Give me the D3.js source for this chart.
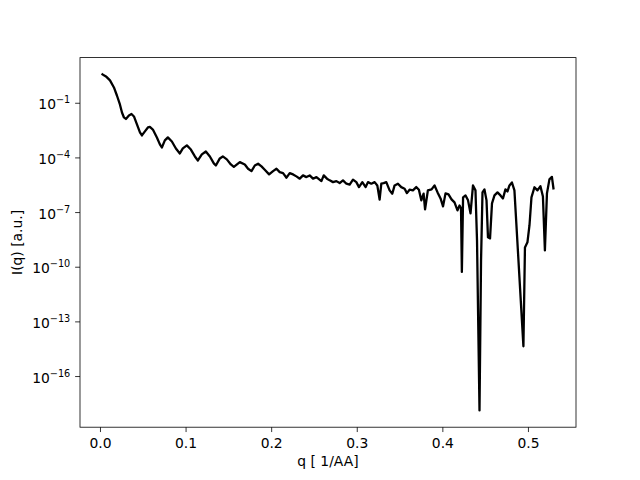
<!DOCTYPE html>
<html>
<head>
<meta charset="utf-8">
<script src="https://cdn.jsdelivr.net/npm/d3@7"></script>
<style>
  body { margin: 0; background: #fff; }
  svg { display: block; font-family: "DejaVu Sans", sans-serif; }
</style>
</head>
<body>
<svg id="chart" width="640" height="480"></svg>
<script>
// scattering curve, q in 1/AA, intensity in arbitrary units
var qValues = [
  0.003, 0.007, 0.0117, 0.0163, 0.0198, 0.0233, 0.0257, 0.028, 0.0303, 0.0338,
  0.0368, 0.0397, 0.0432, 0.0467, 0.049, 0.0525, 0.056, 0.0583, 0.0618, 0.0665,
  0.070, 0.0723, 0.0758, 0.0793, 0.084, 0.0887, 0.0933, 0.0968, 0.1015, 0.1062,
  0.1109, 0.1144, 0.119, 0.1237, 0.1284, 0.133, 0.1354, 0.140, 0.1435, 0.1482,
  0.1529, 0.1564,
  0.1634, 0.1692, 0.1730, 0.1770, 0.1809, 0.1847, 0.1887, 0.1925,
  0.1976, 0.2022, 0.2062, 0.2100, 0.2139, 0.2179, 0.2217, 0.2256, 0.2295, 0.2334,
  0.2372, 0.2412, 0.245, 0.2489, 0.2529, 0.2587, 0.2614, 0.2652, 0.2684, 0.2722,
  0.2762, 0.2800, 0.2839, 0.2879, 0.2917, 0.2956, 0.2995, 0.3026, 0.3065, 0.3104,
  0.3131, 0.3170, 0.3209, 0.3240, 0.3267, 0.3287, 0.3314, 0.3345, 0.3384, 0.3415,
  0.3442, 0.3481, 0.3520, 0.3559, 0.3586, 0.3617, 0.3656, 0.3695, 0.3726, 0.3754,
  0.3781, 0.3798, 0.3831,
  0.3874, 0.3909, 0.3944, 0.3979, 0.4008, 0.4037, 0.4072, 0.4107, 0.4142,
  0.4177, 0.4201, 0.4218, 0.4228, 0.4242, 0.4271, 0.430, 0.4329, 0.4358, 0.4387,
  0.4405, 0.4434, 0.4452, 0.4469, 0.4492, 0.4516, 0.4533, 0.4557, 0.458, 0.4609,
  0.4644, 0.4679, 0.4708, 0.4737, 0.4761, 0.4784, 0.4813, 0.4842, 0.4947, 0.4965,
  0.4994, 0.5018, 0.5041, 0.5076, 0.5111, 0.5146, 0.5175, 0.5198, 0.5222, 0.5251,
  0.528, 0.5298
];
var intensityValues = [
  3.6e0, 2.8e0, 1.7e0, 6.9e-1, 2.5e-1, 8.1e-2, 2.9e-2, 1.56e-2, 1.29e-2, 2.0e-2,
  2.4e-2, 1.77e-2, 6.5e-3, 2.35e-3, 1.61e-3, 2.7e-3, 4.4e-3, 4.7e-3, 3.4e-3, 1.25e-3,
  5.2e-4, 3.5e-4, 8.6e-4, 1.25e-3, 7.5e-4, 3.1e-4, 1.65e-4, 3.1e-4, 4.6e-4, 2.7e-4,
  1.13e-4, 6.8e-5, 1.46e-4, 2.1e-4, 1.13e-4, 4.7e-5, 3.6e-5, 8.8e-5, 1.13e-4, 7.8e-5,
  4.1e-5, 3.0e-5,
  5.5e-5, 4.1e-5, 2.4e-5, 1.77e-5, 3.6e-5, 4.5e-5, 3.2e-5, 2.1e-5,
  1.17e-5, 1.77e-5, 2.4e-5, 1.56e-5, 1.37e-5, 7.7e-6, 1.37e-5, 1.17e-5, 9.1e-6, 6.8e-6,
  1.03e-5, 8.3e-6, 1.03e-5, 6.8e-6, 8.3e-6, 5.0e-6, 1.03e-5, 6.8e-6, 5.5e-6, 4.4e-6,
  5.0e-6, 3.9e-6, 5.5e-6, 3.6e-6, 3.2e-6, 6.0e-6, 4.4e-6, 2.35e-6, 4.4e-6, 2.35e-6,
  4.4e-6, 3.6e-6, 4.4e-6, 2.9e-6, 4.8e-7, 3.6e-6, 3.9e-6, 4.4e-6, 1.55e-6, 1.02e-6,
  2.9e-6, 3.6e-6, 2.35e-6, 1.92e-6, 1.1e-6, 1.69e-6, 1.55e-6, 2.35e-6, 1.69e-6, 4.4e-7,
  1.02e-6, 1.4e-7, 1.55e-6,
  1.75e-6, 2.9e-6, 1.2e-6, 5.6e-7, 2.05e-7, 1.06e-6, 9.3e-7, 5.0e-7, 3.4e-7,
  1.24e-7, 2.3e-7, 1.6e-7, 5.2e-11, 6.4e-7, 8.2e-7, 4.4e-7, 8.5e-8, 2.9e-6, 1.55e-6,
  2.8e-9, 1.3e-18, 2.2e-10, 1.2e-6, 1.75e-6, 4.4e-7, 4.1e-9, 3.6e-9, 3.0e-7, 8.2e-7,
  1.2e-6, 8.2e-7, 5.6e-7, 1.75e-6, 1.36e-6, 2.9e-6, 4.2e-6, 1.55e-6, 4.3e-15, 1.15e-9,
  2.2e-9, 1.9e-8, 6.4e-7, 2.3e-6, 1.55e-6, 2.6e-6, 7.2e-7, 7.9e-10, 1.06e-6, 6.2e-6,
  8.5e-6, 2.0e-6
];
var xTicks = [0.0, 0.1, 0.2, 0.3, 0.4, 0.5];
var yTickExponents = [-1, -4, -7, -10, -13, -16];
var xLabel = "q [ 1/AA]";
var yLabel = "I(q) [a.u.]";

var width = 640, height = 480;
var margin = {left: 80, right: 64, top: 57.6, bottom: 52.8};
var plotW = width - margin.left - margin.right;
var plotH = height - margin.top - margin.bottom;
var tickLen = 4.86, tickPad = 4.86, fontPx = 13.89;

var points = qValues.map((q, i) => ({q: q, I: intensityValues[i]}));

// matplotlib-like 5% margins (log space for y)
var xExt = d3.extent(qValues);
var xPad = (xExt[1] - xExt[0]) * 0.05;
var x = d3.scaleLinear()
  .domain([xExt[0] - xPad, xExt[1] + xPad])
  .range([0, plotW]);

var lExt = d3.extent(intensityValues).map(Math.log10);
var lPad = (lExt[1] - lExt[0]) * 0.05;
var y = d3.scaleLog()
  .domain([Math.pow(10, lExt[0] - lPad), Math.pow(10, lExt[1] + lPad)])
  .range([plotH, 0]);

var svg = d3.select('#chart');
svg.append('rect').attr('width', width).attr('height', height).attr('fill', '#fff');

var g = svg.append('g').attr('transform', `translate(${margin.left},${margin.top})`);

var defs = svg.append('defs');
defs.append('clipPath').attr('id', 'plotClip')
  .append('rect').attr('width', plotW).attr('height', plotH);

var line = d3.line()
  .x(d => x(d.q))
  .y(d => y(d.I));

g.append('path')
  .datum(points)
  .attr('clip-path', 'url(#plotClip)')
  .attr('d', line)
  .attr('fill', 'none')
  .attr('stroke', '#000')
  .attr('stroke-width', 2.3)
  .attr('stroke-linejoin', 'round')
  .attr('stroke-linecap', 'square');

// x axis
var xAxis = g.append('g')
  .attr('transform', `translate(0,${plotH})`)
  .call(d3.axisBottom(x).tickValues(xTicks).tickSize(tickLen).tickPadding(tickPad)
    .tickFormat(d3.format('.1f')));
xAxis.select('.domain').remove();
xAxis.selectAll('.tick line').attr('stroke', '#000').attr('stroke-width', 0.8);
xAxis.selectAll('.tick text')
  .attr('font-family', '"DejaVu Sans", sans-serif')
  .attr('font-size', fontPx)
  .attr('fill', '#000')
  .attr('dy', null)
  .attr('y', tickLen + tickPad + 10.6);

// y axis, labels drawn as 10 with a superscript exponent
var yAxis = g.append('g')
  .call(d3.axisLeft(y).tickValues(yTickExponents.map(e => Math.pow(10, e)))
    .tickSize(tickLen).tickFormat(''));
yAxis.select('.domain').remove();
yAxis.selectAll('.tick line').attr('stroke', '#000').attr('stroke-width', 0.8);
yAxis.selectAll('.tick').each(function(d) {
  var t = d3.select(this).append('text')
    .attr('x', -(tickLen + tickPad))
    .attr('y', 6)
    .attr('text-anchor', 'end')
    .attr('font-family', '"DejaVu Sans", sans-serif')
    .attr('fill', '#000')
    .attr('font-size', fontPx);
  t.append('tspan').text('10');
  t.append('tspan')
    .attr('font-size', 9.7)
    .attr('dy', -6)
    .text('\u2212' + Math.abs(Math.round(Math.log10(d))));
});

// frame
g.append('rect')
  .attr('width', plotW).attr('height', plotH)
  .attr('fill', 'none').attr('stroke', '#000').attr('stroke-width', 0.8);

// axis labels
svg.append('text')
  .attr('x', margin.left + plotW / 2)
  .attr('y', 466)
  .attr('text-anchor', 'middle')
  .attr('font-size', fontPx)
  .attr('fill', '#000')
  .text(xLabel);

svg.append('text')
  .attr('transform', `translate(22,${margin.top + plotH / 2}) rotate(-90)`)
  .attr('text-anchor', 'middle')
  .attr('font-size', fontPx)
  .attr('fill', '#000')
  .text(yLabel);
</script>
</body>
</html>
